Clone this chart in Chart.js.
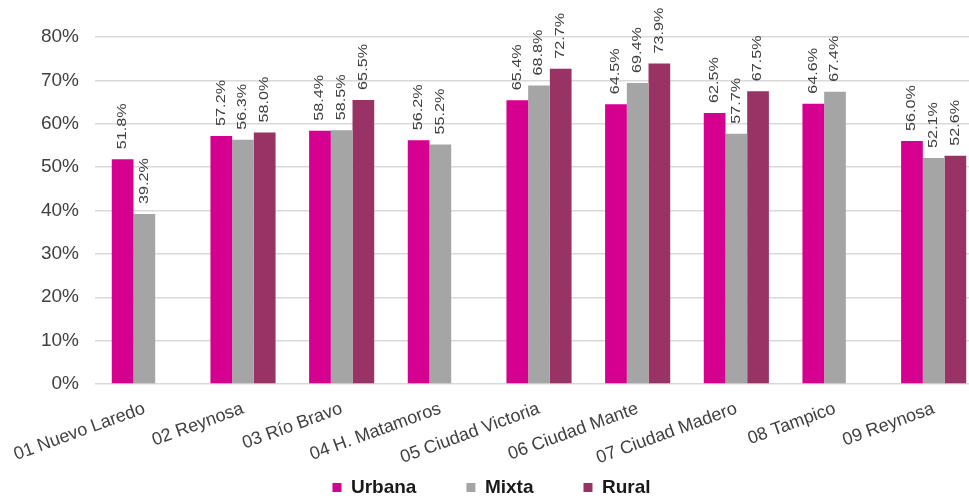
<!DOCTYPE html>
<html>
<head>
<meta charset="utf-8">
<script src="https://cdn.jsdelivr.net/npm/chart.js@4"></script>
<style>
  html, body { margin: 0; padding: 0; background: #fff; overflow: hidden; }
  #wrap { width: 983px; height: 499px; position: relative; }
</style>
</head>
<body>
<div id="wrap"><canvas id="chart"></canvas></div>
<script>
const categorias = ['01 Nuevo Laredo', '02 Reynosa', '03 Río Bravo', '04 H. Matamoros', '05 Ciudad Victoria',
  '06 Ciudad Mante', '07 Ciudad Madero', '08 Tampico', '09 Reynosa'];
const urbana = [51.8, 57.2, 58.4, 56.2, 65.4, 64.5, 62.5, 64.6, 56.0];
const mixta = [39.2, 56.3, 58.5, 55.2, 68.8, 69.4, 57.7, 67.4, 52.1];
const rural = [null, 58.0, 65.5, null, 72.7, 73.9, 67.5, null, 52.6];
const ticksY = [0, 10, 20, 30, 40, 50, 60, 70, 80];

const FONT = "'Liberation Sans', Arial, sans-serif";

// etiquetas de valor giradas encima de cada barra
const etiquetas = {
  id: 'etiquetas',
  afterDatasetsDraw(chart) {
    const ctx = chart.ctx;
    ctx.save();
    ctx.font = '12px ' + FONT;
    ctx.fillStyle = '#404040';
    ctx.textAlign = 'left';
    ctx.textBaseline = 'middle';
    chart.data.datasets.forEach((ds, i) => {
      const meta = chart.getDatasetMeta(i);
      meta.data.forEach((bar, j) => {
        const v = ds.data[j];
        if (v == null) return;
        ctx.save();
        ctx.translate(bar.x, bar.y - 10);
        ctx.rotate(-Math.PI / 2);
        ctx.scale(1.35, 1);
        ctx.fillText(v.toFixed(1) + '%', 0, 0);
        ctx.restore();
      });
    });
    ctx.restore();
  }
};

// la leyenda ocupa menos alto del que calcula Chart.js y se sube un poco
const ajusteLeyenda = {
  id: 'ajusteLeyenda',
  beforeLayout(chart) {
    const lg = chart.legend;
    if (!lg || lg._ajustado) return;
    const fit = lg.fit.bind(lg);
    lg.fit = function () { fit(); this.height = 35; };
    lg._ajustado = true;
  },
  afterLayout(chart) {
    const lg = chart.legend;
    if (!lg) return;
    lg.top = 428;
    lg.bottom = 499;
    lg.height = 71;
  }
};

new Chart(document.getElementById('chart'), {
  type: 'bar',
  data: {
    labels: categorias,
    datasets: [
      { label: 'Urbana', data: urbana, backgroundColor: '#d5008f' },
      { label: 'Mixta', data: mixta, backgroundColor: '#a5a5a5' },
      { label: 'Rural', data: rural, backgroundColor: '#993366' }
    ]
  },
  options: {
    responsive: true,
    maintainAspectRatio: false,
    animation: false,
    layout: { padding: { top: 37, right: 0, bottom: 0, left: 0 } },
    datasets: { bar: { categoryPercentage: 0.66, barPercentage: 1.0 } },
    plugins: {
      tooltip: { enabled: false },
      legend: {
        position: 'bottom',
        labels: {
          font: { family: FONT, size: 19, weight: 'bold' },
          color: '#1a1a1a',
          boxWidth: 9,
          boxHeight: 9,
          padding: 50
        }
      }
    },
    scales: {
      x: {
        afterFit(scale) { scale.height = 80; },
        grid: { display: false },
        border: { display: false },
        ticks: {
          font: { family: FONT, size: 18 },
          color: '#404040',
          padding: 6,
          maxRotation: 20,
          minRotation: 20,
          autoSkip: false
        }
      },
      y: {
        min: 0,
        max: 80,
        afterFit(scale) { scale.width = 95; },
        afterBuildTicks(scale) { scale.ticks = ticksY.map(v => ({ value: v })); },
        grid: { color: '#d9d9d9', lineWidth: 1.5, drawTicks: false },
        border: { display: false },
        ticks: {
          font: { family: FONT, size: 19 },
          color: '#404040',
          padding: 16,
          callback: v => v + '%'
        }
      }
    }
  },
  plugins: [etiquetas, ajusteLeyenda]
});
</script>
</body>
</html>
